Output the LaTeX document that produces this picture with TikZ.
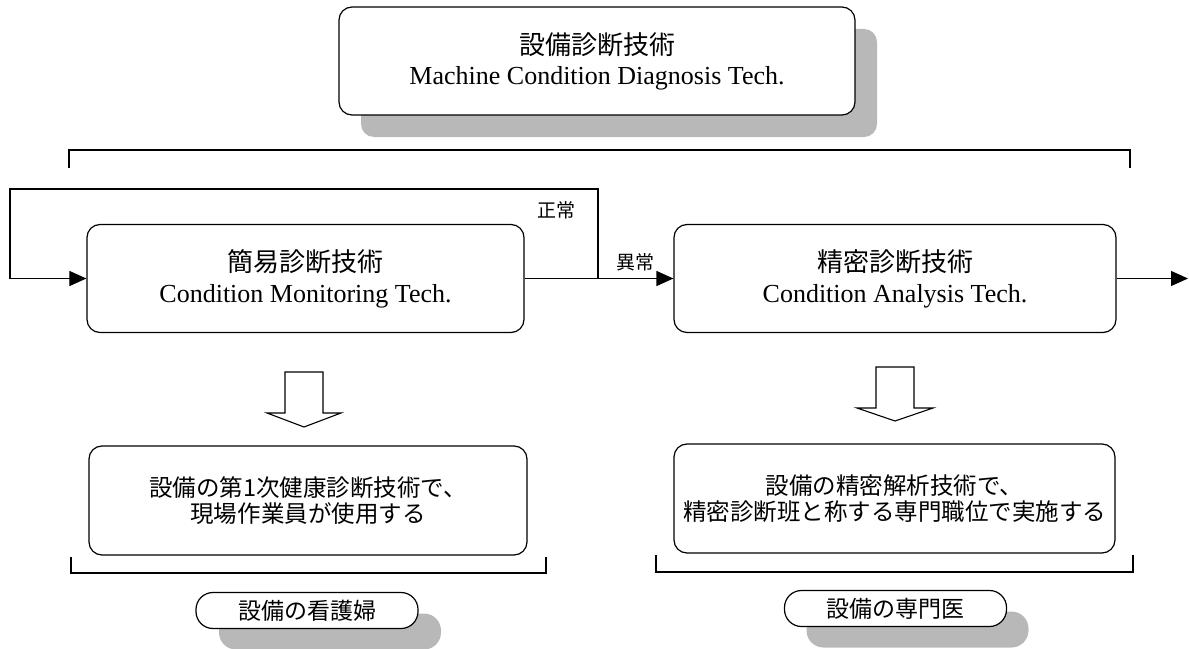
\documentclass[tikz,border=0pt]{standalone}
\usepackage{fontspec}
\setmainfont{Liberation Serif}
\newfontfamily\jp{Noto Sans CJK JP}
\usetikzlibrary{arrows.meta,shadows}

% hollow block arrow pointing down: shaft centre x, top y, shaft bottom y, tip y, half shaft width, half head width
\newcommand{\blockarrow}[6]{%
  \draw[line width=1.1bp, fill=white]
    (#1-#5,#2) -- (#1+#5,#2) -- (#1+#5,#3) -- (#1+#6,#3) -- (#1,#4)
    -- (#1-#6,#3) -- (#1-#5,#3) -- cycle;}

\begin{document}
\begin{tikzpicture}[x=1bp,y=-1bp,line width=1.2bp,
  sh/.style={drop shadow={shadow xshift=22bp,shadow yshift=-22bp,fill=black!28,opacity=1}},
  box/.style={draw,fill=white,rounded corners=13bp,align=center,inner sep=0pt},
  pill/.style={draw,fill=white,rounded corners=17bp,inner sep=0pt,
    minimum width=222bp,minimum height=36bp,font=\jp\fontsize{23bp}{26bp}\selectfont},
  big/.style={font=\fontsize{26bp}{31bp}\selectfont},
  mid/.style={font=\jp\fontsize{23.5bp}{26bp}\selectfont},
  tag/.style={font=\jp\fontsize{19bp}{22bp}\selectfont,inner sep=0pt},
  flow/.style={-{Triangle[length=17bp,width=15bp]}},
  bracket/.style={line width=1.1bp}]
\useasboundingbox (0,0) rectangle (1189,649);

% title box
\node[box,sh,big,minimum width=516bp,minimum height=108bp] (diag) at (597,61)
  {{\jp 設備診断技術}\\[-1bp]Machine Condition Diagnosis Tech.};

% bracket under the title
\draw[bracket] (69,168) -- (69,150) -- (1130,150) -- (1130,168);

% the two diagnosis stages
\node[box,big,minimum width=437bp,minimum height=108bp] (mon) at (305.5,278.5)
  {{\jp 簡易診断技術}\\Condition Monitoring Tech.};
\node[box,big,minimum width=442bp,minimum height=108bp] (ana) at (895,278.5)
  {{\jp 精密診断技術}\\Condition Analysis Tech.};

% flow between the stages
\coordinate (split) at (598,278.5);
\coordinate (loopL) at (10,189);
\coordinate (out) at (1188,278.5);
\draw[flow] (mon.east) -- (ana.west);
\draw[flow] (split) |- (loopL) |- (mon.west);
\draw[flow] (ana.east) -- (out);
\node[tag] (ok) at (556,210) {正常};
\node[tag] (ng) at (635,262) {異常};

% block arrows down to the descriptions
\blockarrow{304}{372}{413}{427}{19}{37}
\blockarrow{895}{367}{408}{421}{19}{38}

% descriptions
\node[box,mid,minimum width=438bp,minimum height=109bp] (mondesc) at (308,500.5)
  {設備の第1次健康診断技術で、\\現場作業員が使用する};
\node[box,mid,minimum width=441bp,minimum height=109bp] (anadesc) at (894.5,498.5)
  {設備の精密解析技術で、\\精密診断班と称する専門職位で実施する};

% brackets under the descriptions
\draw[bracket] (71,557) -- (71,573) -- (546,573) -- (546,557);
\draw[bracket] (656,555) -- (656,572) -- (1133,572) -- (1133,555);

% role labels
\node[pill,drop shadow={shadow xshift=23bp,shadow yshift=-21bp,fill=black!28,opacity=1}] (nurse) at (307,610.5) {設備の看護婦};
\node[pill,drop shadow={shadow xshift=22bp,shadow yshift=-21bp,fill=black!28,opacity=1}] (doctor) at (895.5,608.5) {設備の専門医};
\end{tikzpicture}
\end{document}
